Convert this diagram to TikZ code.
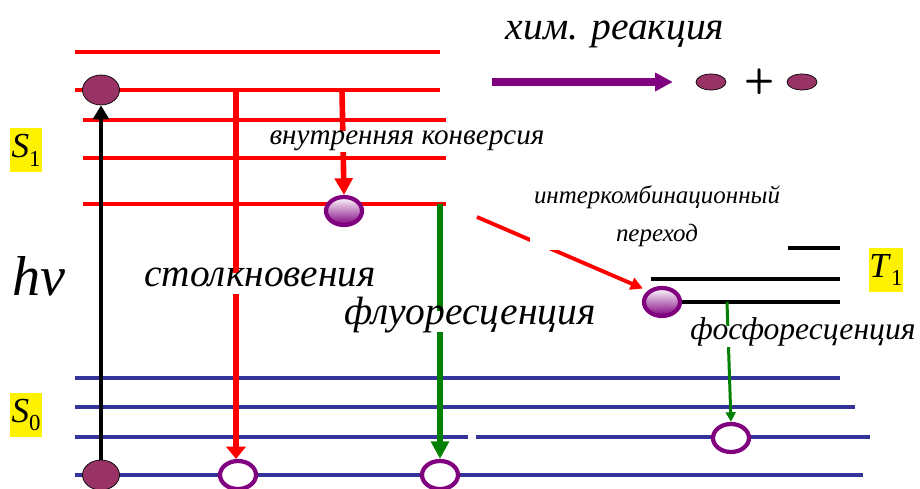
\documentclass[tikz,border=0pt]{standalone}
\usepackage{fontspec}
\IfFontExistsTF{LiberationSerif-Italic.ttf}
  {\setmainfont{LiberationSerif}[Extension=.ttf, UprightFont=*-Regular, ItalicFont=*-Italic, BoldFont=*-Bold, BoldItalicFont=*-BoldItalic]}
  {\setmainfont{Liberation Serif}[ItalicFont={Liberation Serif Italic}]}
\usetikzlibrary{shapes.geometric}
\usetikzlibrary{arrows.meta}
\usetikzlibrary{positioning}

\definecolor{levelblue}{RGB}{51,51,153}
\definecolor{molecule}{RGB}{153,51,102}
\definecolor{orbit}{RGB}{128,0,128}
\definecolor{fluor}{RGB}{0,128,0}

\tikzset{
  s1level/.style={draw=red, line width=1.9pt},
  s0level/.style={draw=levelblue, line width=1.8pt},
  t1level/.style={draw=black, line width=1.8pt},
  occupied/.style={ellipse, draw=black, thin, fill=molecule, inner sep=0pt, minimum width=0.74cm, minimum height=0.6cm},
  excited/.style={ellipse, draw=orbit, line width=2.4pt, top color=white, bottom color=orbit, inner sep=0pt, minimum width=0.72cm, minimum height=0.56cm},
  vacant/.style={ellipse, draw=orbit, line width=2.4pt, fill=white, inner sep=0pt, minimum width=0.72cm, minimum height=0.56cm},
  proc/.style={fill=white, inner sep=1pt, text height=0.68em, text depth=0.3em},
  statelabel/.style={fill=yellow, inner sep=1pt, minimum width=15pt, minimum height=25pt, font=\fontsize{20}{22}\selectfont}
}

\begin{document}
\begin{tikzpicture}[x=0.02cm, y=-0.02cm]
\useasboundingbox (0,0) rectangle (920,489);

\draw[s1level] (75,52) -- (440,52);
\draw[s1level] (75,90) -- (440,90);
\draw[s1level] (83,120) -- (446,120);
\draw[s1level] (83,158) -- (446,158);
\draw[s1level] (83,204) -- (446,204);

\draw[t1level] (788,248) -- (840,248);
\draw[t1level] (651,279) -- (840,279);
\draw[t1level] (670,302) -- (840,302);

\draw[s0level] (75,378) -- (840,378);
\draw[s0level] (75,407) -- (855,407);
\draw[s0level] (75,437) -- (468,437);
\draw[s0level] (476,437) -- (870,437);
\draw[s0level] (75,475) -- (863,475);

\node at (101,90)[occupied] (m1) {};
\node at (101,475)[occupied] (m0) {};
\node at (344,211)[excited] (e1) {};
\node at (662,302)[excited] (e3) {};
\node at (238,475)[vacant] (h1) {};
\node at (440,475)[vacant] (h2) {};
\node at (731,438)[vacant] (h3) {};
\node at (711,82)[occupied, minimum width=0.6cm, minimum height=0.32cm] (p1) {};
\node at (760,82)[font=\sffamily\bfseries\fontsize{20}{20}\selectfont] (plus) {+};
\node at (802,82)[occupied, minimum width=0.6cm, minimum height=0.32cm] (p2) {};

\coordinate (c1) at (236,90);
\coordinate (c2) at (342,90);
\coordinate (c3) at (440,204);
\coordinate (c4) at (477,217);
\coordinate (c5) at (727,302);
\coordinate (c6) at (492,82);

\draw [line width=2.5pt, -{Triangle[length=8pt,width=9pt]}] (m0.north) -- (m1.south);
\draw [red, line width=3.2pt, -{Triangle[length=7pt,width=11pt]}] (c1) -- (c1 |- h1.north);
\draw [red, line width=3.2pt, -{Triangle[length=9.5pt,width=10pt]}] (c2) -- (e1.north);
\draw [fluor, line width=2.9pt, -{Triangle[length=10pt,width=10pt]}] (c3) -- (h2.north);
\draw [red, line width=2.2pt, -{Triangle[length=7pt,width=7pt]}, shorten >=3pt] (c4) -- (e3.north west);
\draw [fluor, line width=1.7pt, -{Triangle[length=5.5pt,width=5.5pt]}] (c5) -- (h3.north);
\draw [orbit, line width=4pt, -{Triangle[length=10pt,width=10pt]}, shorten >=13pt] (c6) -- (p1.west);

\node at (615,40)[anchor=base, font=\itshape\fontsize{22.5}{24}\selectfont] (chem) {хим. реакция};
\node at (407,145)[proc, anchor=base, font=\itshape\fontsize{16.6}{18}\selectfont] (ic) {внутренняя конверсия};
\node at (260,287)[proc, anchor=base, font=\itshape\fontsize{22.4}{24}\selectfont] (coll) {столкновения};
\node at (470,325)[proc, anchor=base, font=\itshape\fontsize{22.5}{24}\selectfont] (fl) {флуоресценция};
\node at (657,216)[fill=white, inner sep=2pt, align=center, font=\itshape\fontsize{14.2}{21.5}\selectfont] (isc) {интеркомбинационный\\переход};
\node at (803,340)[proc, anchor=base, font=\itshape\fontsize{18}{20}\selectfont] (ph) {фосфоресценция};
\node at (39,296)[anchor=base, font=\itshape\fontsize{32}{34}\selectfont] (hnu) {hν};

\node at (26,150)[statelabel] (s1) {\textit{S}\raisebox{-0.25em}{\fontsize{13}{13}\selectfont 1}};
\node at (26,415)[statelabel] (s0) {\textit{S}\raisebox{-0.25em}{\fontsize{13}{13}\selectfont 0}};
\node at (886,270)[statelabel, inner xsep=0pt] (t1) {\textit{T}\raisebox{-0.25em}{\fontsize{13}{13}\selectfont 1}};

\end{tikzpicture}
\end{document}
